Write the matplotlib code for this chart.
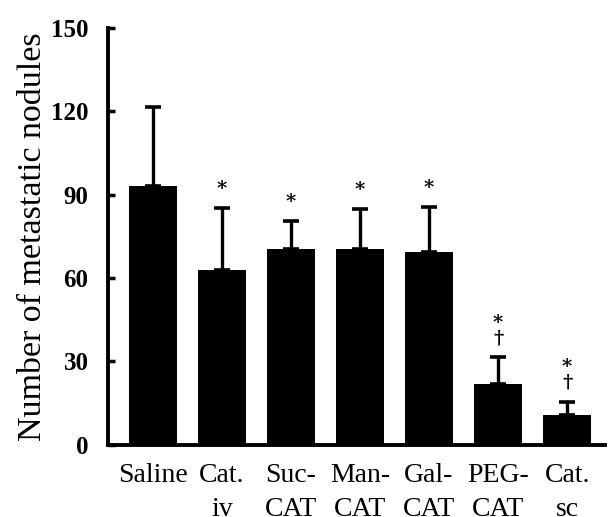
import matplotlib.pyplot as plt
import numpy as np

groups = ['Saline', 'Cat.\niv', 'Suc-\nCAT', 'Man-\nCAT', 'Gal-\nCAT', 'PEG-\nCAT', 'Cat.\nsc']
means = [93, 62.8, 70.4, 70.4, 69.3, 21.7, 10.5]
sds = [28.7, 22.4, 10.1, 14.4, 16.3, 9.7, 5.0]
marks = ['', '*', '*', '*', '*', '*\n\u2020', '*\n\u2020']
yticks = [0, 30, 60, 90, 120, 150]

plt.rcParams['font.family'] = ['Liberation Serif', 'DejaVu Serif']

fig = plt.figure(figsize=(6.1, 5.17), dpi=100)
ax = fig.add_axes([0.177, 0.140, 0.815, 0.806])

x = np.arange(len(groups))
ax.bar(x, means, width=0.7, color='black', zorder=2)
ax.errorbar(x, means, yerr=[np.zeros(len(sds)), sds], fmt='none',
            ecolor='black', elinewidth=2.4, capsize=6, capthick=2.6, zorder=1)

for xi, m, s, t in zip(x, means, sds, marks):
    if t:
        ax.text(xi, m + s + 3.5, t, ha='center', va='bottom', fontsize=14,
                fontweight='bold', linespacing=0.85, family='DejaVu Serif')

ax.set_xlim(-0.65, 6.55)
ax.set_ylim(0, 150)
ax.set_yticks(yticks)
ax.set_xticks(x)
ax.set_xticklabels(groups, fontsize=20, linespacing=1.5)
ax.tick_params(axis='y', direction='in', length=5, width=2.5, pad=14,
               labelsize=18)
ax.tick_params(axis='x', length=0, pad=13)
for lab in ax.get_yticklabels():
    lab.set_fontweight('bold')

ax.spines['top'].set_visible(False)
ax.spines['right'].set_visible(False)
ax.spines['left'].set_linewidth(2.8)
ax.spines['bottom'].set_linewidth(2.8)

ax.set_ylabel('Number of metastatic nodules', fontsize=24.5, labelpad=2)

fig.savefig('out.png', dpi=100)
